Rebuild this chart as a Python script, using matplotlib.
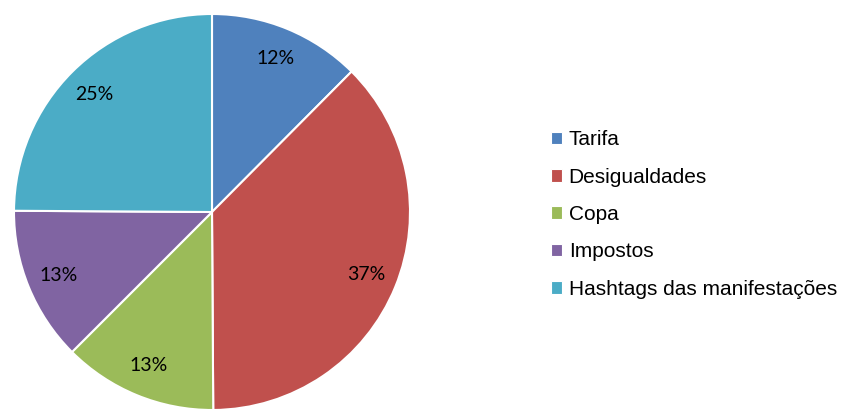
import matplotlib
matplotlib.use("Agg")
import matplotlib.pyplot as plt
from matplotlib.patches import Patch

# dados do gráfico (rótulos arredondados)
categorias = ['Tarifa', 'Desigualdades', 'Copa', 'Impostos', 'Hashtags das manifestações']
valores = [12.45, 37.45, 12.6, 12.6, 24.9]
cores = ['#4F81BD', '#C0504D', '#9BBB59', '#8064A2', '#4BACC6']

fig = plt.figure(figsize=(8.48, 4.12), dpi=100)

# eixo da pizza (círculo ocupa ~15..409 px)
ax = fig.add_axes([14 / 848, 2 / 412, 396 / 848, 396 / 412])
wedges, textos, pcts = ax.pie(
    valores, colors=cores, startangle=90, counterclock=False,
    autopct='%1.0f%%', pctdistance=0.84, radius=1,
    wedgeprops=dict(edgecolor='white', linewidth=1.5),
    textprops=dict(fontsize=14, family='Lato', color='black'))
ax.set_xlim(-1.0, 1.0)
ax.set_ylim(-1.0, 1.0)
ax.set_aspect('equal')

# legenda à direita
handles = [Patch(facecolor=c, edgecolor='white', linewidth=0.8) for c in cores]
fig.legend(handles, categorias, loc='center left',
           bbox_to_anchor=(551 / 848, 1 - 214.5 / 412),
           frameon=False, borderpad=0, borderaxespad=0,
           handlelength=0.55, handleheight=0.55, handletextpad=0.3,
           labelspacing=0.88,
           prop=dict(family='Liberation Sans', size=15))

fig.savefig('out.png', dpi=100)
